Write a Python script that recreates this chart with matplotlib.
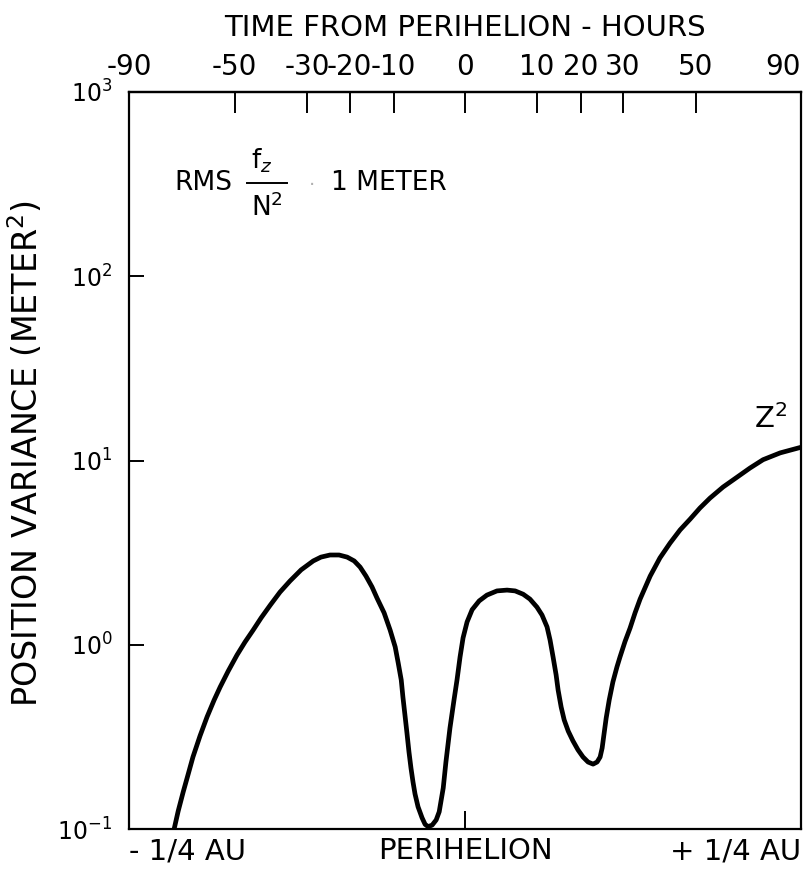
import matplotlib
matplotlib.use("Agg")
import matplotlib.pyplot as plt

plt.rcParams['font.family'] = ['DejaVu Sans']
plt.rcParams['axes.unicode_minus'] = False

# position along orbit, in units of 1/4 AU (-1 .. +1), and Z^2 variance (m^2)
pos = [-0.866, -0.854, -0.839, -0.824, -0.810, -0.789, -0.768, -0.747, -0.729, -0.705,
       -0.679, -0.655, -0.631, -0.607, -0.580, -0.551, -0.521, -0.488, -0.452, -0.429,
       -0.402, -0.375, -0.351, -0.330, -0.3125, -0.295, -0.277, -0.262, -0.241, -0.223,
       -0.208, -0.199, -0.190, -0.185, -0.179, -0.173, -0.167, -0.161, -0.155, -0.149,
       -0.140, -0.128, -0.119, -0.110, -0.098, -0.086, -0.077, -0.071, -0.065, -0.057,
       -0.045, -0.033, -0.024, -0.015, -0.006, 0.006, 0.021, 0.042, 0.065, 0.095,
       0.125, 0.149, 0.173, 0.193, 0.214, 0.229, 0.244, 0.253, 0.262, 0.271,
       0.277, 0.286, 0.295, 0.307, 0.321, 0.336, 0.351, 0.366, 0.381, 0.393,
       0.402, 0.408, 0.414, 0.420, 0.429, 0.440, 0.452, 0.461, 0.476, 0.491,
       0.506, 0.521, 0.551, 0.580, 0.610, 0.640, 0.670, 0.699, 0.729, 0.768,
       0.810, 0.848, 0.887, 0.938, 1.0]
var_z = [0.100, 0.125, 0.159, 0.199, 0.246, 0.320, 0.406, 0.501, 0.590, 0.720,
         0.879, 1.035, 1.20, 1.40, 1.64, 1.93, 2.22, 2.55, 2.85, 2.99,
         3.07, 3.07, 2.99, 2.85, 2.64, 2.36, 2.06, 1.79, 1.49, 1.20,
         0.973, 0.796, 0.644, 0.520, 0.416, 0.332, 0.262, 0.214, 0.180, 0.155,
         0.132, 0.115, 0.106, 0.103, 0.105, 0.112, 0.124, 0.144, 0.167, 0.231,
         0.353, 0.501, 0.644, 0.857, 1.09, 1.33, 1.55, 1.73, 1.86, 1.96,
         1.98, 1.96, 1.88, 1.77, 1.60, 1.45, 1.25, 1.06, 0.857, 0.686,
         0.567, 0.459, 0.391, 0.340, 0.301, 0.269, 0.246, 0.231, 0.225, 0.231,
         0.246, 0.275, 0.332, 0.400, 0.501, 0.628, 0.757, 0.857, 1.04, 1.23,
         1.49, 1.77, 2.36, 2.96, 3.56, 4.20, 4.81, 5.52, 6.25, 7.18,
         8.13, 9.10, 10.1, 11.0, 11.8]

# top axis: time from perihelion (hours) and where it falls along the orbit
hours = ['-90', '-50', '-30', '-20', '-10', '0', '10', '20', '30', '50', '90']
hour_pos = [-1.0, -0.686, -0.470, -0.344, -0.213, 0.0, 0.213, 0.344, 0.470, 0.686, 1.0]

bottom_labels = ['- 1/4 AU', 'PERIHELION', '+ 1/4 AU']
bottom_pos = [-1.0, 0.0, 1.0]

fig = plt.figure(figsize=(8.07, 8.72), dpi=100)
ax = fig.add_axes([0.160, 0.0493, 0.8326, 0.8452])

ax.plot(pos, var_z, color='black', lw=3.4, solid_joinstyle='round', solid_capstyle='round')
ax.set_yscale('log')
ax.set_xlim(-1, 1)
ax.set_ylim(0.1, 1000)

for s in ax.spines.values():
    s.set_linewidth(1.6)

ax.set_yticks([0.1, 1, 10, 100, 1000])
ax.set_yticklabels([r'$10^{-1}$', r'$10^{0}$', r'$10^{1}$', r'$10^{2}$', r'$10^{3}$'])
ax.yaxis.set_minor_locator(matplotlib.ticker.NullLocator())
ax.tick_params(axis='y', direction='in', length=11, width=1.4, labelsize=17, pad=12)
ax.set_ylabel(r'POSITION VARIANCE (METER$^{2}$)', fontsize=24)
ax.yaxis.set_label_coords(-0.125, 0.51)

ax.set_xticks(bottom_pos)
ax.set_xticklabels(bottom_labels)
ax.tick_params(axis='x', direction='in', length=13, width=1.4, labelsize=21, pad=6)
lbls = ax.get_xticklabels()
lbls[0].set_ha('left')
lbls[2].set_ha('right')

top = ax.secondary_xaxis('top')
top.set_xticks(hour_pos)
top.set_xticklabels(hours)
top.tick_params(direction='in', length=15, width=1.4, labelsize=20, pad=8)
top.spines['top'].set_linewidth(1.6)
top.get_xticklabels()[-1].set_ha('right')
top.set_xlabel('TIME FROM PERIHELION - HOURS', fontsize=21, labelpad=12)

# annotation
ax.text(0.068, 0.877, 'RMS', transform=ax.transAxes, fontsize=19, va='center')
ax.text(0.197, 0.907, r'f$_{z}$', transform=ax.transAxes, fontsize=19, ha='center', va='center')
ax.plot([0.175, 0.235], [0.877, 0.877], transform=ax.transAxes, color='black', lw=1.4)
ax.text(0.205, 0.843, r'N$^{2}$', transform=ax.transAxes, fontsize=19, ha='center', va='center')
ax.text(0.268, 0.873, '\u00b7', transform=ax.transAxes, fontsize=14, color='#b0b0b0', va='center')
ax.text(0.30, 0.877, '1 METER', transform=ax.transAxes, fontsize=19, va='center')

ax.text(0.955, 0.556, r'Z$^{2}$', transform=ax.transAxes, fontsize=21, ha='center', va='center')

fig.savefig('out.png', dpi=100, facecolor='white')
